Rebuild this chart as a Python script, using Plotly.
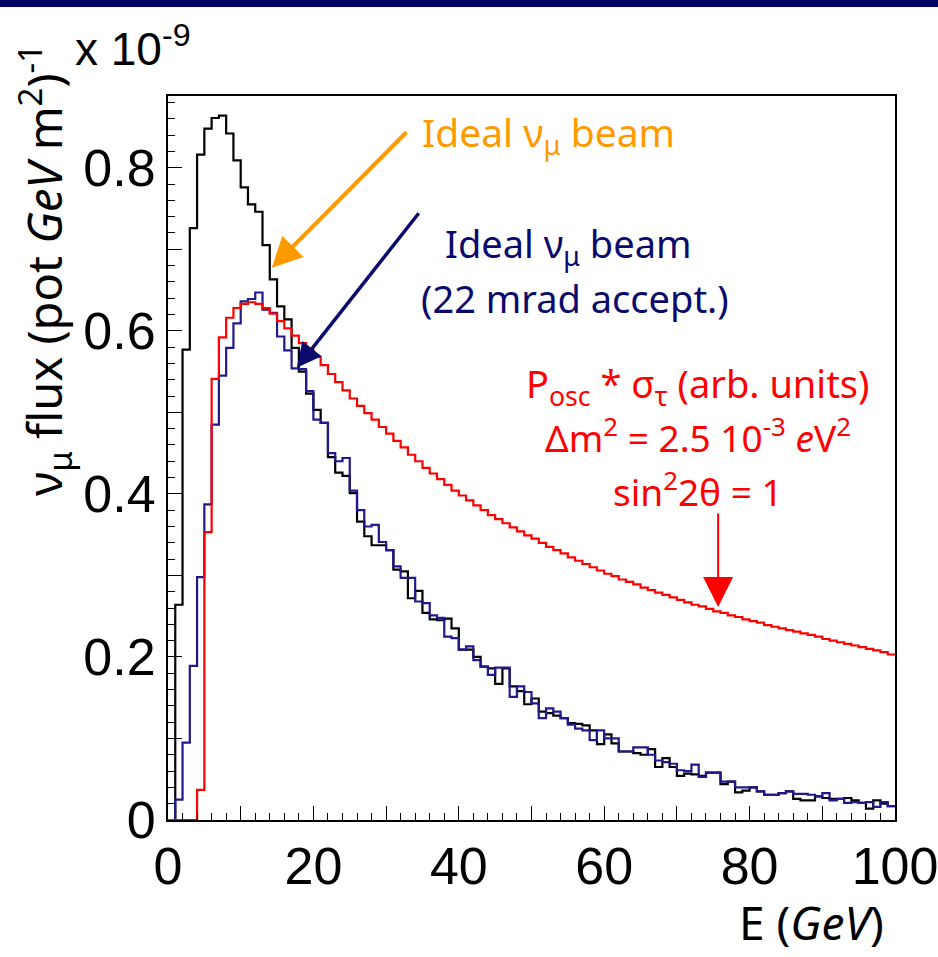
import plotly.graph_objects as go

# ---------------- data (1 GeV bins from 0 to 100 GeV) ----------------
bin_edges = list(range(0, 101))

flux_ideal = [
    0.000, 0.264, 0.577, 0.726, 0.816, 0.848, 0.861, 0.864, 0.842, 0.809,
    0.776, 0.755, 0.746, 0.705, 0.663, 0.630, 0.614, 0.579, 0.550, 0.523,
    0.503, 0.487, 0.445, 0.426, 0.422, 0.401, 0.366, 0.348, 0.337, 0.337,
    0.331, 0.307, 0.305, 0.272, 0.281, 0.254, 0.246, 0.245, 0.247, 0.235,
    0.209, 0.209, 0.200, 0.188, 0.186, 0.167, 0.186, 0.164, 0.158, 0.142,
    0.149, 0.133, 0.131, 0.128, 0.125, 0.119, 0.118, 0.116, 0.110, 0.093,
    0.105, 0.094, 0.084, 0.084, 0.082, 0.080, 0.087, 0.065, 0.076, 0.065,
    0.054, 0.057, 0.056, 0.054, 0.058, 0.058, 0.044, 0.047, 0.034, 0.036,
    0.040, 0.035, 0.031, 0.031, 0.033, 0.035, 0.026, 0.024, 0.024, 0.029,
    0.027, 0.026, 0.026, 0.027, 0.024, 0.021, 0.014, 0.024, 0.020, 0.017,
]

flux_22mrad = [
    0.000, 0.025, 0.095, 0.189, 0.298, 0.387, 0.485, 0.545, 0.579, 0.609,
    0.636, 0.639, 0.647, 0.626, 0.622, 0.593, 0.576, 0.554, 0.553, 0.526,
    0.491, 0.487, 0.450, 0.440, 0.444, 0.404, 0.380, 0.360, 0.362, 0.341,
    0.331, 0.311, 0.297, 0.297, 0.268, 0.266, 0.251, 0.248, 0.225, 0.223,
    0.209, 0.213, 0.196, 0.188, 0.178, 0.187, 0.187, 0.151, 0.164, 0.157,
    0.143, 0.125, 0.137, 0.133, 0.125, 0.117, 0.112, 0.110, 0.098, 0.110,
    0.100, 0.100, 0.084, 0.084, 0.089, 0.089, 0.080, 0.073, 0.071, 0.069,
    0.061, 0.060, 0.068, 0.053, 0.058, 0.058, 0.047, 0.047, 0.040, 0.040,
    0.040, 0.035, 0.031, 0.031, 0.033, 0.035, 0.032, 0.032, 0.031, 0.029,
    0.033, 0.024, 0.026, 0.021, 0.022, 0.021, 0.022, 0.016, 0.022, 0.017,
]

posc_sigma = [
    0.000, 0.000, 0.000, 0.000, 0.037, 0.353, 0.541, 0.592, 0.616, 0.628,
    0.633, 0.635, 0.633, 0.628, 0.621, 0.612, 0.603, 0.594, 0.585, 0.577,
    0.568, 0.558, 0.547, 0.537, 0.527, 0.517, 0.508, 0.499, 0.491, 0.482,
    0.474, 0.465, 0.457, 0.448, 0.440, 0.432, 0.425, 0.418, 0.411, 0.404,
    0.398, 0.392, 0.386, 0.380, 0.374, 0.369, 0.364, 0.359, 0.354, 0.349,
    0.345, 0.340, 0.335, 0.331, 0.327, 0.322, 0.318, 0.314, 0.310, 0.306,
    0.302, 0.299, 0.295, 0.292, 0.289, 0.285, 0.282, 0.279, 0.276, 0.273,
    0.270, 0.267, 0.264, 0.262, 0.259, 0.256, 0.254, 0.251, 0.249, 0.246,
    0.244, 0.242, 0.239, 0.237, 0.235, 0.233, 0.231, 0.229, 0.227, 0.225,
    0.222, 0.220, 0.218, 0.216, 0.214, 0.212, 0.210, 0.208, 0.206, 0.203,
]

x_tickvals = [0, 10, 20, 30, 40, 50, 60, 70, 80, 90, 100]
x_ticktext = ["0", "", "20", "", "40", "", "60", "", "80", "", "100"]
y_tickvals = [0, 0.1, 0.2, 0.3, 0.4, 0.5, 0.6, 0.7, 0.8]
y_ticktext = ["0", "", "0.2", "", "0.4", "", "0.6", "", "0.8"]

BLACK = "#000000"
BLUE = "#20188c"
NAVY = "#0a0a6c"
RED = "#ff0000"
ORANGE = "#ff9900"
TXT_FONT = "Noto Sans, DejaVu Sans, sans-serif"
NUM_FONT = "Liberation Sans, Arial, sans-serif"


def hist_xy(values):
    xs = list(bin_edges) + [bin_edges[-1]]
    ys = list(values) + [values[-1]]
    return xs, ys


fig = go.Figure()
for vals, col in [(flux_ideal, BLACK), (flux_22mrad, BLUE), (posc_sigma, RED)]:
    xs, ys = hist_xy(vals)
    fig.add_trace(go.Scatter(x=xs, y=ys, mode="lines",
                             line=dict(color=col, width=2.2, shape="hv"),
                             showlegend=False, hoverinfo="skip"))

fig.update_layout(
    width=938, height=957,
    margin=dict(l=168, r=43, t=96, b=137, autoexpand=False),
    paper_bgcolor="white", plot_bgcolor="white",
    showlegend=False,
)

fig.update_xaxes(
    range=[0, 100], showgrid=False, zeroline=False, automargin=False,
    showline=True, linecolor="black", linewidth=2, mirror=True,
    tickmode="array", tickvals=x_tickvals, ticktext=x_ticktext,
    ticks="inside", ticklen=14, tickwidth=1.2, tickcolor="black",
    minor=dict(tickmode="linear", tick0=0, dtick=2, ticks="inside",
               ticklen=7, tickwidth=1.2, tickcolor="black", showgrid=False),
    tickfont=dict(family=NUM_FONT, size=52, color="black"),
    ticklabeloverflow="allow",
)
fig.update_yaxes(
    range=[0, 0.888], showgrid=False, zeroline=False, automargin=False,
    showline=True, linecolor="black", linewidth=2, mirror=True,
    tickmode="array", tickvals=y_tickvals, ticktext=y_ticktext,
    ticks="inside", ticklen=14, tickwidth=1.2, tickcolor="black",
    minor=dict(tickmode="linear", tick0=0, dtick=0.02, ticks="inside",
               ticklen=7, tickwidth=1.2, tickcolor="black", showgrid=False),
    tickfont=dict(family=NUM_FONT, size=52, color="black"),
    ticklabeloverflow="allow",
)

# top navy banner
fig.add_shape(type="rect", xref="paper", yref="paper",
              x0=-0.3, x1=1.1, y0=(820 - 7) / 724, y1=(820 + 2) / 724 + 0.01,
              fillcolor="#000066", line=dict(width=0), layer="above")

# axis titles
fig.add_annotation(xref="paper", yref="paper", x=(44 - 168) / 727, y=(820 - 498) / 724,
                   xanchor="center", yanchor="bottom", textangle=-90, showarrow=False,
                   text="ν<sub>μ</sub> flux (pot <i>GeV</i> m<sup>2</sup>)<sup>-1</sup>",
                   font=dict(family=TXT_FONT, size=47, color="black"))
fig.add_annotation(xref="paper", yref="paper", x=(73 - 168) / 727, y=(820 - 46) / 724,
                   xanchor="left", yanchor="middle", showarrow=False,
                   text="x 10<sup>-9</sup>",
                   font=dict(family=NUM_FONT, size=46, color="black"))
fig.add_annotation(xref="paper", yref="paper", x=(886 - 168) / 727, y=(820 - 922) / 724,
                   xanchor="right", yanchor="middle", showarrow=False,
                   text="E (<i>GeV</i>)",
                   font=dict(family=TXT_FONT, size=46, color="black"))


def ex(px):
    return (px - 168.3) / 7.264


def vy(py):
    return (820 - py) / 815.0


# orange annotation
fig.add_annotation(x=ex(420), y=vy(134), xanchor="left", yanchor="middle", showarrow=False,
                   text="Ideal ν<sub>μ</sub> beam",
                   font=dict(family=TXT_FONT, size=39, color=ORANGE))
fig.add_annotation(x=ex(272), y=vy(268), ax=ex(408), ay=vy(131), axref="x", ayref="y",
                   text="", showarrow=True, arrowhead=2, arrowsize=1.5, arrowwidth=4,
                   arrowcolor=ORANGE, standoff=0)

# navy annotation
fig.add_annotation(x=ex(568), y=vy(246), xanchor="center", yanchor="middle", showarrow=False,
                   text="Ideal ν<sub>μ</sub> beam",
                   font=dict(family=TXT_FONT, size=38, color=NAVY))
fig.add_annotation(x=ex(575), y=vy(298), xanchor="center", yanchor="middle", showarrow=False,
                   text="(22 mrad accept.)",
                   font=dict(family=TXT_FONT, size=38, color=NAVY))
fig.add_annotation(x=ex(297), y=vy(368), ax=ex(420), ay=vy(212), axref="x", ayref="y",
                   text="", showarrow=True, arrowhead=2, arrowsize=1.4, arrowwidth=3.5,
                   arrowcolor=NAVY, standoff=0)

# red annotation
fig.add_annotation(x=ex(697), y=vy(386), xanchor="center", yanchor="middle", showarrow=False,
                   text="P<sub>osc</sub> * σ<sub>τ</sub> (arb. units)",
                   font=dict(family=TXT_FONT, size=38, color=RED))
fig.add_annotation(x=ex(698), y=vy(436), xanchor="center", yanchor="middle", showarrow=False,
                   text="Δm<sup>2</sup> = 2.5 10<sup>-3</sup> <i>e</i>V<sup>2</sup>",
                   font=dict(family=TXT_FONT, size=37, color=RED))
fig.add_annotation(x=ex(698), y=vy(490), xanchor="center", yanchor="middle", showarrow=False,
                   text="sin<sup>2</sup>2θ = 1",
                   font=dict(family=TXT_FONT, size=37, color=RED))
fig.add_annotation(x=ex(718), y=vy(607), ax=ex(718), ay=vy(512), axref="x", ayref="y",
                   text="", showarrow=True, arrowhead=2, arrowsize=3, arrowwidth=2,
                   arrowcolor=RED, standoff=0)

fig.write_html("out.html")
